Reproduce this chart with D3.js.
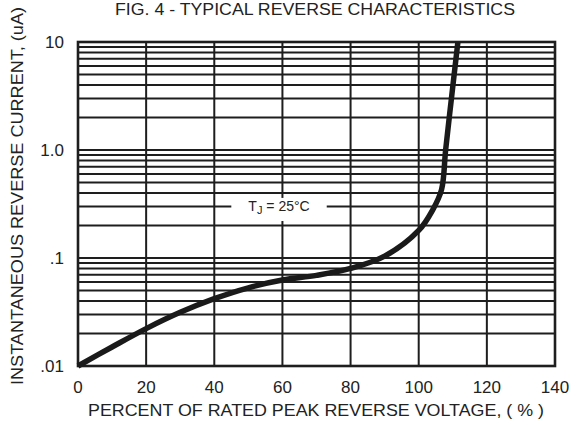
<!DOCTYPE html>
<html>
<head>
<meta charset="utf-8">
<script src="https://cdn.jsdelivr.net/npm/d3@7"></script>
<style>
  body { margin: 0; background: #fff; }
  text { font-family: "Liberation Sans", Arial, sans-serif; fill: #222; }
</style>
</head>
<body>
<div id="chart"></div>
<script>
// values: % of rated voltage, current in uA
var voltagePct = [0, 10, 20, 30, 40, 50, 60, 70, 80, 90, 100, 104, 106.7, 107.9, 109.7, 111.5];
var currentUA  = [0.01, 0.0150, 0.0222, 0.0314, 0.0420, 0.0530, 0.0625, 0.069, 0.080, 0.104, 0.180, 0.275, 0.43, 1.0, 3.2, 10];

var xTicks = [0, 20, 40, 60, 80, 100, 120, 140];
var yTicks = [0.01, 0.1, 1, 10];
var yTickLabels = [".01", ".1", "1.0", "10"];

var width = 584, height = 425;
var margin = { top: 42, right: 29, bottom: 59, left: 78 };

var svg = d3.select("#chart").append("svg")
    .attr("width", width)
    .attr("height", height);

var x = d3.scaleLinear().domain([0, 140]).range([margin.left, width - margin.right]);
var y = d3.scaleLog().domain([0.01, 10]).range([height - margin.bottom, margin.top]);

// minor log grid: 1..9 in every decade
var hLines = [];
[0.01, 0.1, 1].forEach(function (d) {
    for (var i = 1; i <= 9; i++) hLines.push(d * i);
});
hLines.push(10);

svg.append("g").selectAll("line.h")
    .data(hLines)
    .enter().append("line")
    .attr("class", "h")
    .attr("x1", x(0)).attr("x2", x(140))
    .attr("y1", function (d) { return y(d); })
    .attr("y2", function (d) { return y(d); })
    .style("stroke", "#1e1e1e")
    .style("stroke-width", 2);

svg.append("g").selectAll("line.v")
    .data(xTicks)
    .enter().append("line")
    .attr("class", "v")
    .attr("x1", function (d) { return x(d); })
    .attr("x2", function (d) { return x(d); })
    .attr("y1", y(10)).attr("y2", y(0.01))
    .style("stroke", "#1e1e1e")
    .style("stroke-width", 2);

// frame
svg.append("rect")
    .attr("x", x(0)).attr("y", y(10))
    .attr("width", x(140) - x(0))
    .attr("height", y(0.01) - y(10))
    .attr("fill", "none")
    .style("stroke", "#1e1e1e")
    .style("stroke-width", 2.6);

// TJ label with white box
var lab = svg.append("g");
lab.append("rect")
    .attr("x", x(45)).attr("y", y(0.36))
    .attr("width", x(73) - x(45))
    .attr("height", y(0.22) - y(0.36))
    .attr("fill", "#fff");
var t = lab.append("text")
    .attr("x", x(59))
    .attr("y", y(0.3) + 5)
    .attr("text-anchor", "middle")
    .style("font-size", "14px");
t.append("tspan").text("T");
t.append("tspan").attr("dy", 3).style("font-size", "11px").text("J");
t.append("tspan").attr("dy", -3).text(" = 25\u00b0C");

// curve
var line = d3.line()
    .x(function (d, i) { return x(voltagePct[i]); })
    .y(function (d) { return y(d); })
    .curve(d3.curveCatmullRom.alpha(0.5));

svg.append("path")
    .datum(currentUA)
    .attr("d", line)
    .attr("fill", "none")
    .style("stroke", "#1a1a1a")
    .style("stroke-width", 5.5)
    .style("stroke-linecap", "butt");

// tick labels
svg.append("g").selectAll("text.xt")
    .data(xTicks)
    .enter().append("text")
    .attr("x", function (d) { return x(d); })
    .attr("y", 393)
    .attr("text-anchor", "middle")
    .style("font-size", "17px")
    .text(function (d) { return d; });

svg.append("g").selectAll("text.yt")
    .data(yTicks)
    .enter().append("text")
    .attr("x", 64)
    .attr("y", function (d) { return y(d) + 6; })
    .attr("text-anchor", "end")
    .style("font-size", "17px")
    .text(function (d, i) { return yTickLabels[i]; });

// titles
svg.append("text")
    .attr("x", 315).attr("y", 15)
    .attr("text-anchor", "middle")
    .attr("textLength", 400)
    .attr("lengthAdjust", "spacingAndGlyphs")
    .style("font-size", "16px")
    .text("FIG. 4 - TYPICAL REVERSE CHARACTERISTICS");

svg.append("text")
    .attr("x", 316).attr("y", 416)
    .attr("text-anchor", "middle")
    .attr("textLength", 456)
    .attr("lengthAdjust", "spacingAndGlyphs")
    .style("font-size", "17px")
    .text("PERCENT OF RATED PEAK REVERSE VOLTAGE, ( % )");

svg.append("text")
    .attr("transform", "translate(23,196) rotate(-90)")
    .attr("text-anchor", "middle")
    .attr("textLength", 378)
    .attr("lengthAdjust", "spacingAndGlyphs")
    .style("font-size", "17px")
    .text("INSTANTANEOUS REVERSE CURRENT, (uA)");
</script>
</body>
</html>
